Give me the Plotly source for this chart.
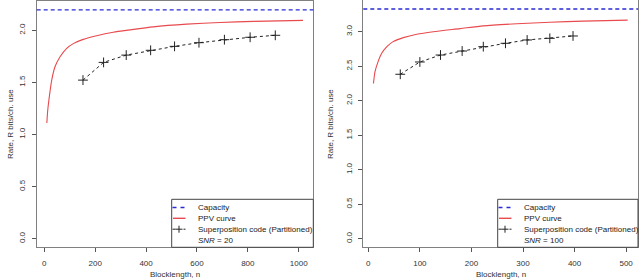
import plotly.graph_objects as go

W, H = 640, 279

# ---------------- data ----------------
snr_labels = ["20", "100"]
capacity = [2.196, 3.329]

ppv_n_left = [10, 13, 18, 29, 42, 62, 88, 114, 153, 206, 271, 337, 428, 560, 690, 822, 1017]
ppv_r_left = [1.11, 1.22, 1.33, 1.52, 1.65, 1.746, 1.827, 1.872, 1.913, 1.948, 1.981, 2.004, 2.033, 2.059, 2.075, 2.086, 2.095]

sup_n_left = [152, 233, 322, 418, 512, 608, 708, 809, 908]
sup_r_left = [1.522, 1.692, 1.762, 1.808, 1.846, 1.881, 1.910, 1.933, 1.952]

ppv_n_right = [10, 13, 19, 26, 36, 48, 68, 94, 126, 178, 223, 288, 352, 417, 503]
ppv_r_right = [2.25, 2.42, 2.566, 2.687, 2.783, 2.856, 2.914, 2.963, 3.0, 3.045, 3.085, 3.115, 3.137, 3.153, 3.168]

sup_n_right = [62, 100, 140, 182, 223, 266, 308, 352, 397]
sup_r_right = [2.383, 2.561, 2.662, 2.720, 2.783, 2.832, 2.880, 2.904, 2.938]

x_ticks_left = [0, 200, 400, 600, 800, 1000]
x_ticks_right = [0, 100, 200, 300, 400, 500]
y_ticks_left = [0.0, 0.5, 1.0, 1.5, 2.0]
y_ticks_right = [0.0, 0.5, 1.0, 1.5, 2.0, 2.5, 3.0]

legend_labels = ["Capacity", "PPV curve", "Superposition code (Partitioned)"]
x_title = "Blocklength, n"
y_title = "Rate, R bits/ch. use"

# ---------------- styling ----------------
FONT = "Liberation Sans, Arial, sans-serif"
RED = "#e84a4d"
BLUE = "#2a2ad6"
BLK = "#222222"
FRAME = "#808080"


def px(x):
    return x / W


def py(y):
    return 1 - y / H


panels = [
    dict(ppv_n=ppv_n_left, ppv_r=ppv_r_left, sup_n=sup_n_left, sup_r=sup_r_left,
         cap=capacity[0], snr=snr_labels[0], xt=x_ticks_left, yt=y_ticks_left,
         box=(36.7, 313.3, 0.76, 247.3), xr=[-29.9, 1057.4], yr=[-0.0825, 2.2835],
         leg_left=171.7, ytitle_x=10),
    dict(ppv_n=ppv_n_right, ppv_r=ppv_r_right, sup_n=sup_n_right, sup_r=sup_r_right,
         cap=capacity[1], snr=snr_labels[1], xt=x_ticks_right, yt=y_ticks_right,
         box=(363.3, 638.0, 0.3, 247.3), xr=[-9.7, 523.0], yr=[-0.1246, 3.455],
         leg_left=497.7, ytitle_x=330),
]

fig = go.Figure()
shapes = []
annotations = []

for i, p in enumerate(panels):
    sfx = "" if i == 0 else str(i + 1)
    xa, ya = "x" + sfx, "y" + sfx
    x0, x1, y0, y1 = p["box"]

    fig.add_trace(go.Scatter(x=p["ppv_n"], y=p["ppv_r"], mode="lines",
                             line=dict(color=RED, width=1.1, shape="spline", smoothing=0.6),
                             xaxis=xa, yaxis=ya, showlegend=False, hoverinfo="skip"))
    fig.add_trace(go.Scatter(x=p["sup_n"], y=p["sup_r"], mode="lines+markers",
                             line=dict(color=BLK, width=1, dash="3px,3px"),
                             marker=dict(symbol="cross-thin-open", size=7,
                                         line=dict(color=BLK, width=1)),
                             xaxis=xa, yaxis=ya, showlegend=False, hoverinfo="skip"))

    # capacity line across whole plot
    shapes.append(dict(type="line", xref=xa + " domain", yref=ya, x0=0, x1=1,
                       y0=p["cap"], y1=p["cap"],
                       line=dict(color=BLUE, width=1.4, dash="4px,3px")))

    axis_common = dict(showgrid=False, zeroline=False, showline=True, mirror=True,
                       linecolor=FRAME, linewidth=1.2, ticks="outside", ticklen=4,
                       tickcolor="#555555", tickwidth=1,
                       tickfont=dict(family=FONT, size=8, color="#333333"))
    fig.update_layout(**{
        "xaxis" + sfx: dict(domain=[px(x0), px(x1)], range=p["xr"], anchor=ya,
                            tickvals=p["xt"], ticktext=[str(v) for v in p["xt"]],
                            ticklabelstandoff=4, **axis_common),
        "yaxis" + sfx: dict(domain=[py(y1), py(y0)], range=p["yr"], anchor=xa,
                            tickvals=p["yt"], ticktext=[f"{v:.1f}" for v in p["yt"]],
                            tickangle=-90, ticklabelstandoff=3, **axis_common),
    })

    # axis titles
    annotations.append(dict(text=x_title, xref="paper", yref="paper",
                            x=px((x0 + x1) / 2), y=py(274.5), xanchor="center", yanchor="middle",
                            showarrow=False, font=dict(family=FONT, size=8, color="#333333")))
    annotations.append(dict(text=y_title, xref="paper", yref="paper",
                            x=px(p["ytitle_x"]), y=py(124), xanchor="center", yanchor="middle",
                            textangle=-90, showarrow=False,
                            font=dict(family=FONT, size=8, color="#333333")))

    # manual R-style legend
    L = p["leg_left"]
    d = L - 171.7
    shapes.append(dict(type="rect", xref="paper", yref="paper",
                       x0=px(L), x1=px(x1), y0=py(y1), y1=py(199.3),
                       line=dict(color="#444444", width=1), fillcolor="white", layer="above"))
    rows = [207.5, 218.3, 229.2, 240.0]
    shapes.append(dict(type="line", xref="paper", yref="paper", x0=px(172.5 + d),
                       x1=px(185.5 + d), y0=py(rows[0]), y1=py(rows[0]),
                       line=dict(color=BLUE, width=1.4, dash="4px,4px"), layer="above"))
    shapes.append(dict(type="line", xref="paper", yref="paper", x0=px(173 + d),
                       x1=px(185.5 + d), y0=py(rows[1]), y1=py(rows[1]),
                       line=dict(color=RED, width=1.4), layer="above"))
    shapes.append(dict(type="line", xref="paper", yref="paper", x0=px(172.5 + d),
                       x1=px(175.5 + d), y0=py(rows[2]), y1=py(rows[2]),
                       line=dict(color=BLK, width=1), layer="above"))
    shapes.append(dict(type="line", xref="paper", yref="paper", x0=px(175.5 + d),
                       x1=px(182.5 + d), y0=py(rows[2]), y1=py(rows[2]),
                       line=dict(color=BLK, width=1), layer="above"))
    shapes.append(dict(type="line", xref="paper", yref="paper", x0=px(179 + d),
                       x1=px(179 + d), y0=py(rows[2] - 3.5), y1=py(rows[2] + 3.5),
                       line=dict(color=BLK, width=1), layer="above"))
    shapes.append(dict(type="line", xref="paper", yref="paper", x0=px(183.5 + d),
                       x1=px(185.5 + d), y0=py(rows[2]), y1=py(rows[2]),
                       line=dict(color=BLK, width=1), layer="above"))
    texts = legend_labels + [f"<i>SNR</i> = {p['snr']}"]
    for t, r in zip(texts, rows):
        annotations.append(dict(text=t, xref="paper", yref="paper",
                                x=px(196.0 + d), y=py(r), xanchor="left",
                                yanchor="middle", showarrow=False,
                                font=dict(family=FONT, size=8, color="#222222")))

fig.update_layout(width=W, height=H, margin=dict(l=0, r=0, t=0, b=0),
                  paper_bgcolor="white", plot_bgcolor="white",
                  shapes=shapes, annotations=annotations, showlegend=False)

fig.write_html("out.html", config={"displayModeBar": False},
               post_script="document.body.style.margin='0';document.body.style.padding='0';document.body.style.overflow='hidden';")
